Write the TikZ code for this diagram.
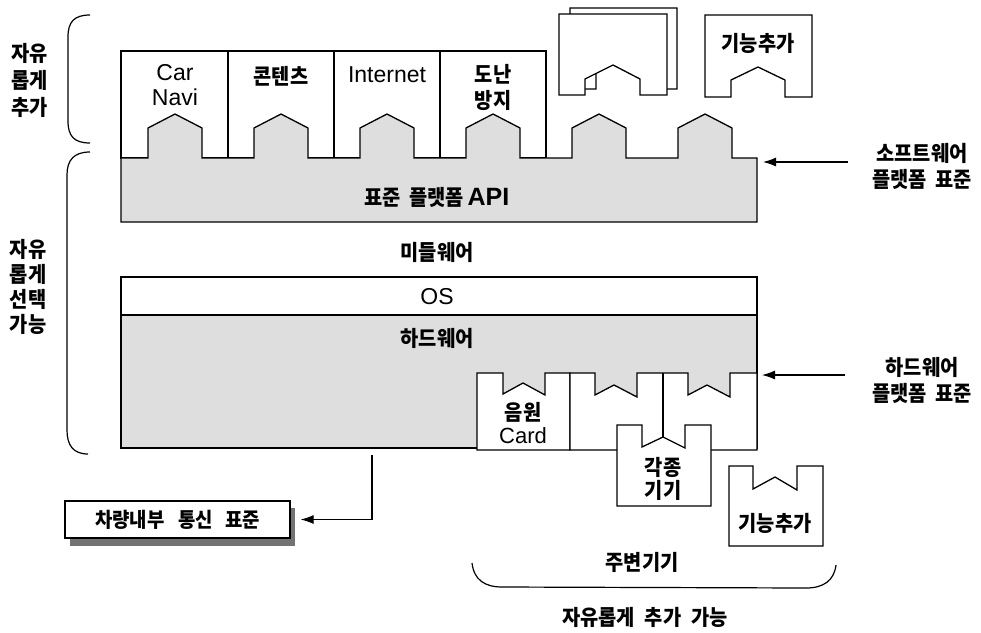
\documentclass[tikz,border=0pt]{standalone}
\usepackage{fontspec}
\setmainfont{Liberation Sans}
\newfontfamily\kr{Noto Sans CJK KR}[FakeStretch=0.92]
\usetikzlibrary{arrows.meta}
\tikzset{
  ln/.style={line width=1.3pt, line join=miter},
  grayfill/.style={fill=black!13},
  kor/.style={font=\kr\bfseries\fontsize{21.5}{#1}\selectfont, align=center, inner sep=0pt},
  kor/.default=26,
  lat/.style={font=\fontsize{23}{25}\selectfont, align=center, inner sep=0pt},
  arr/.style={line width=1.1pt, -{Latex[length=13pt,width=9pt]}},
  brace/.style={line width=1.2pt},
}
\begin{document}
\begin{tikzpicture}[x=1pt,y=-1pt]
\useasboundingbox (0,0) rectangle (981,632);

% braces
\draw[brace] (90,15) .. controls (74,15) and (68,22) .. (68,37) -- (68,121) .. controls (68,136) and (74,143) .. (90,143);
\draw[brace] (90,152) .. controls (74,152) and (67,160) .. (67,175) -- (67,430) .. controls (67,445) and (73,454) .. (88,454);
\draw[brace] (472,563) .. controls (474,580) and (485,587) .. (502,587) -- (806,588) .. controls (823,588) and (834,581) .. (836,565);

% top application boxes
\foreach \xa/\xb in {121/228, 228/334, 334/440, 440/546} {
  \draw[ln, fill=white] (\xa,51) rectangle (\xb,158);
}
% standard platform API block
\draw[ln, grayfill] (121,222) -- (121,158)
  foreach \c in {175,281,387,493,599,705} { -- (\c-27,158) -- (\c-27,128) -- (\c,114) -- (\c+27,128) -- (\c+27,158) }
  -- (757,158) -- (757,222) -- cycle;

% stacked free boxes
\draw[ln, fill=white] (570,8) -- (677,8) -- (677,89) -- (650,89) -- (650,73) -- (623,59) -- (596,73) -- (596,89) -- (570,89) -- cycle;
\draw[ln, fill=white] (559,14) -- (667,14) -- (667,95) -- (640,95) -- (640,79) -- (613,65) -- (585,79) -- (585,95) -- (559,95) -- cycle;
% function-add box (top)
\draw[ln, fill=white] (705,15) -- (812,15) -- (812,97) -- (785,97) -- (785,80) -- (758,67) -- (731,80) -- (731,97) -- (705,97) -- cycle;

% OS and hardware
\draw[ln, fill=white] (121,277) rectangle (757,315);
\draw[ln, grayfill] (121,315) rectangle (757,448);
% sound card
\draw[ln, fill=white] (477,450) -- (477,373) -- (503,373) -- (503,394) -- (523,383) -- (545,395) -- (545,373) -- (570,373) -- (570,450) -- cycle;
% slot board
\draw[ln, fill=white] (570,450) -- (570,373) -- (595,373) -- (595,395) -- (614,385) -- (637,397) -- (637,373) -- (688,373) -- (688,395) -- (707,385) -- (730,397) -- (730,373) -- (757,373) -- (757,450) -- cycle;
\draw[ln] (663,373) -- (663,437);
% various devices
\draw[ln, fill=white] (617,506) -- (617,425) -- (642,425) -- (642,447) -- (663,437) -- (685,448) -- (685,425) -- (711,425) -- (711,506) -- cycle;
% function-add box (bottom)
\draw[ln, fill=white] (729,546) -- (729,466) -- (753,466) -- (753,489) -- (775,477) -- (797,490) -- (797,466) -- (823,466) -- (823,546) -- cycle;

% in-vehicle communication standard box
\fill[black!55] (70,508) rectangle (295,546);
\node[ln, draw, fill=white, minimum width=225pt, minimum height=37pt, font=\kr\bfseries\fontsize{20.5}{24}\selectfont, inner sep=0pt] (cbox) at (177.5,519.5) {차량내부\hspace{14pt}통신\hspace{12pt}표준};

% labels
\node[lat] (carnavi) at (175,85) {Car\\Navi};
\node[kor] (contents) at (281,76) {콘텐츠};
\node[lat] (internet) at (387,75) {Internet};
\node[kor] (theft) at (493,87) {도난\\방지};
\node[kor] (addtop) at (758,43) {기능추가};
\node[kor] (api) at (437,197) {표준\hspace{8pt}플랫폼\hspace{4pt}{\normalfont\bfseries\fontsize{25}{26}\selectfont API}};
\node[kor] (mw) at (437,252) {미들웨어};
\node[lat] (os) at (437,297) {OS};
\node[kor] (hw) at (437,338) {하드웨어};
\node[kor=23] (card) at (523,423) {음원\\{\normalfont\fontsize{22}{23}\selectfont Card}};
\node[kor=23] (devices) at (663,479) {각종\\기기};
\node[kor] (addbot) at (775,523) {기능추가};
\node[kor] (periph) at (642,562) {주변기기};
\node[kor] (freeadd) at (645,617) {자유롭게\hspace{10pt}추가\hspace{10pt}가능};
\node[kor=27] (lbl1) at (30,80) {자유\\롭게\\추가};
\node[kor=25] (lbl2) at (28,287) {자유\\롭게\\선택\\가능};
\node[kor=26] (swlbl) at (922,166) {소프트웨어\\플랫폼\hspace{8pt}표준};
\node[kor=26] (hwlbl) at (922,380) {하드웨어\\플랫폼\hspace{8pt}표준};

% connectors
\coordinate (swfrom) at (848,162);
\coordinate (swto) at (763,162);
\coordinate (hwfrom) at (845,375);
\coordinate (hwto) at (762,375);
\coordinate (hwbot) at (372,455);
\draw[arr] (swfrom) -- (swto);
\draw[arr] (hwfrom) -- (hwto);
\draw[arr] (hwbot) |- ([xshift=10pt]cbox.east);
\end{tikzpicture}
\end{document}
